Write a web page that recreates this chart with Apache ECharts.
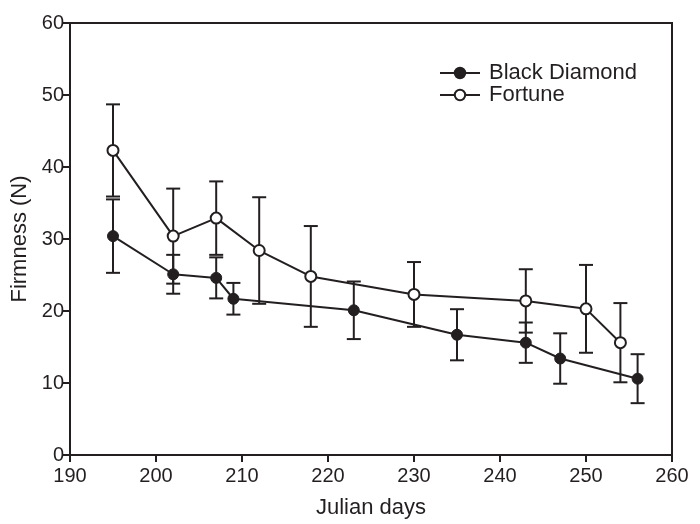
<!DOCTYPE html>
<html>
<head>
<meta charset="utf-8">
<script src="https://cdn.jsdelivr.net/npm/echarts@6/dist/echarts.min.js"></script>
<style>html,body{margin:0;padding:0;background:#fff}#c{width:700px;height:524px}</style>
</head>
<body>
<div id="c"></div>
<script>
// Data
var bdDays  = [195, 202, 207, 209, 223, 235, 243, 247, 256];
var bdMean  = [30.4, 25.1, 24.6, 21.7, 20.1, 16.7, 15.6, 13.4, 10.6];
var bdSD    = [5.1, 2.7, 2.85, 2.2, 4.0, 3.55, 2.8, 3.5, 3.4];

var fDays   = [195, 202, 207, 212, 218, 230, 243, 250, 254];
var fMean   = [42.3, 30.4, 32.9, 28.4, 24.8, 22.3, 21.4, 20.3, 15.6];
var fSD     = [6.4, 6.6, 5.1, 7.4, 7.0, 4.5, 4.4, 6.1, 5.5];

var xTicks  = [190, 200, 210, 220, 230, 240, 250, 260];
var yTicks  = [0, 10, 20, 30, 40, 50, 60];

var seriesNames = ['Black Diamond', 'Fortune'];

var INK = '#231f20';
var FONT = 'Liberation Sans, Arial, Helvetica, sans-serif';

function pts(days, mean) { return days.map(function (d, i) { return [d, mean[i]]; }); }
function errs(days, mean, sd) { return days.map(function (d, i) { return [d, mean[i] - sd[i], mean[i] + sd[i]]; }); }

function errRender(params, api) {
  var x = api.value(0), lo = api.value(1), hi = api.value(2);
  var a = api.coord([x, hi]), b = api.coord([x, lo]);
  var w = 7;
  var st = { stroke: INK, lineWidth: 2 };
  return {
    type: 'group',
    children: [
      { type: 'line', shape: { x1: a[0], y1: a[1], x2: b[0], y2: b[1] }, style: st },
      { type: 'line', shape: { x1: a[0] - w, y1: a[1], x2: a[0] + w, y2: a[1] }, style: st },
      { type: 'line', shape: { x1: b[0] - w, y1: b[1], x2: b[0] + w, y2: b[1] }, style: st }
    ]
  };
}

var chart = echarts.init(document.getElementById('c'), null, { renderer: 'canvas' });
chart.setOption({
  animation: false,
  backgroundColor: '#fff',
  textStyle: { fontFamily: FONT, color: INK },
  grid: { left: 70, right: 28, top: 23, bottom: 68, show: true, borderColor: INK, borderWidth: 2, backgroundColor: 'transparent' },
  legend: {
    data: seriesNames,
    orient: 'vertical',
    left: 439,
    top: 62,
    padding: 0,
    itemWidth: 40,
    itemHeight: 13,
    itemGap: 0,
    textStyle: { fontFamily: FONT, fontSize: 22, color: INK, lineHeight: 21, padding: [0, 0, 0, 4] }
  },
  xAxis: {
    type: 'value',
    min: xTicks[0], max: xTicks[xTicks.length - 1], interval: 10,
    name: 'Julian days', nameLocation: 'middle', nameGap: 42,
    nameTextStyle: { fontFamily: FONT, fontSize: 22, color: INK },
    axisLine: { show: true, lineStyle: { color: INK, width: 2 } },
    axisTick: { show: true, length: 7, lineStyle: { color: INK, width: 2 } },
    axisLabel: { fontFamily: FONT, fontSize: 20, color: INK, margin: 11 },
    splitLine: { show: false }
  },
  yAxis: {
    type: 'value',
    min: yTicks[0], max: yTicks[yTicks.length - 1], interval: 10,
    name: 'Firmness (N)', nameLocation: 'middle', nameGap: 38,
    nameTextStyle: { fontFamily: FONT, fontSize: 22, color: INK },
    axisLine: { show: true, lineStyle: { color: INK, width: 2 } },
    axisTick: { show: true, length: 7, lineStyle: { color: INK, width: 2 } },
    axisLabel: { fontFamily: FONT, fontSize: 20, color: INK, margin: 6 },
    splitLine: { show: false }
  },
  series: [
    {
      type: 'custom', name: 'bdErr', renderItem: errRender,
      data: errs(bdDays, bdMean, bdSD), encode: { x: 0, y: [1, 2] }, z: 1, silent: true
    },
    {
      type: 'custom', name: 'fErr', renderItem: errRender,
      data: errs(fDays, fMean, fSD), encode: { x: 0, y: [1, 2] }, z: 1, silent: true
    },
    {
      type: 'line', name: seriesNames[0], data: pts(bdDays, bdMean), z: 3,
      symbol: 'circle', symbolSize: 11, showSymbol: true,
      lineStyle: { color: INK, width: 2 },
      itemStyle: { color: INK, borderColor: INK, borderWidth: 1 }
    },
    {
      type: 'line', name: seriesNames[1], data: pts(fDays, fMean), z: 4,
      symbol: 'circle', symbolSize: 11, showSymbol: true,
      lineStyle: { color: INK, width: 2 },
      itemStyle: { color: '#fff', borderColor: INK, borderWidth: 2 }
    }
  ]
});
</script>
</body>
</html>
